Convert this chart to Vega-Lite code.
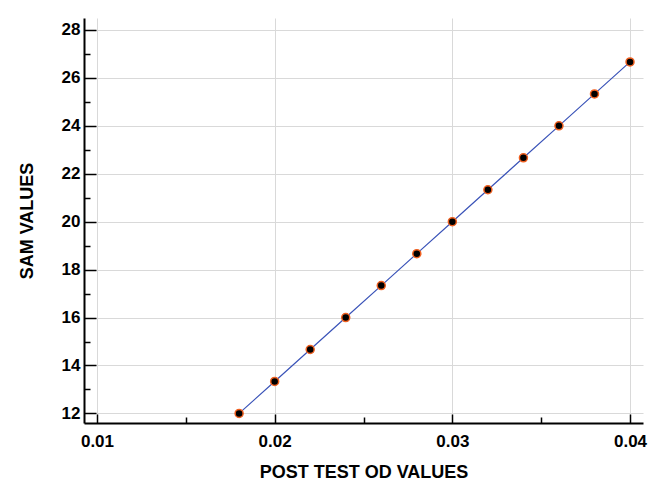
{
  "$schema": "https://vega.github.io/schema/vega-lite/v6.json",
  "width": 559,
  "height": 405,
  "autosize": {"type": "none"},
  "padding": {"left": 84, "top": 18, "right": 17, "bottom": 66},
  "background": "white",
  "config": {
    "view": {"stroke": null},
    "axis": {
      "labelFont": "Liberation Sans",
      "labelFontWeight": "bold",
      "labelFontSize": 17,
      "labelColor": "black",
      "titleFont": "Liberation Sans",
      "titleFontWeight": "bold",
      "titleFontSize": 18,
      "titleColor": "black",
      "domainColor": "black",
      "domainWidth": 2,
      "tickColor": "black",
      "tickWidth": 1.5,
      "gridColor": "#d9d9d9",
      "gridWidth": 1
    }
  },
  "data": {
    "values": [
      {"od": 0.018, "sam": 12.0},
      {"od": 0.020, "sam": 13.333},
      {"od": 0.022, "sam": 14.667},
      {"od": 0.024, "sam": 16.0},
      {"od": 0.026, "sam": 17.333},
      {"od": 0.028, "sam": 18.667},
      {"od": 0.030, "sam": 20.0},
      {"od": 0.032, "sam": 21.333},
      {"od": 0.034, "sam": 22.667},
      {"od": 0.036, "sam": 24.0},
      {"od": 0.038, "sam": 25.333},
      {"od": 0.040, "sam": 26.667}
    ]
  },
  "encoding": {
    "x": {
      "field": "od",
      "type": "quantitative",
      "scale": {"domain": [0.00927, 0.04073], "nice": false, "zero": false},
      "axis": {
        "title": "POST TEST OD VALUES",
        "values": [0.01, 0.015, 0.02, 0.025, 0.03, 0.035, 0.04],
        "labelExpr": "abs(datum.value*100 - round(datum.value*100)) < 0.000001 ? format(datum.value, '.2f') : ''",
        "tickSize": {"condition": {"test": "abs(datum.value*100 - round(datum.value*100)) < 0.000001", "value": -9}, "value": -6},
        "gridOpacity": {"condition": {"test": "abs(datum.value*100 - round(datum.value*100)) < 0.000001", "value": 1}, "value": 0},
        "labelPadding": 19,
        "titlePadding": 14
      }
    },
    "y": {
      "field": "sam",
      "type": "quantitative",
      "scale": {"domain": [11.6, 28.5], "nice": false, "zero": false},
      "axis": {
        "title": "SAM VALUES",
        "values": [12, 13, 14, 15, 16, 17, 18, 19, 20, 21, 22, 23, 24, 25, 26, 27, 28],
        "labelExpr": "datum.value % 2 === 0 ? datum.value : ''",
        "tickSize": {"condition": {"test": "datum.value % 2 === 0", "value": -12}, "value": -6},
        "gridOpacity": {"condition": {"test": "datum.value % 2 === 0", "value": 1}, "value": 0},
        "labelPadding": 16,
        "titlePadding": 25
      }
    }
  },
  "layer": [
    {"mark": {"type": "line", "color": "#3a53b8", "strokeWidth": 1.2}},
    {"mark": {"type": "point", "filled": false, "fill": "black", "fillOpacity": 1, "stroke": "#f06020", "strokeWidth": 1.5, "size": 64, "opacity": 1}}
  ]
}
